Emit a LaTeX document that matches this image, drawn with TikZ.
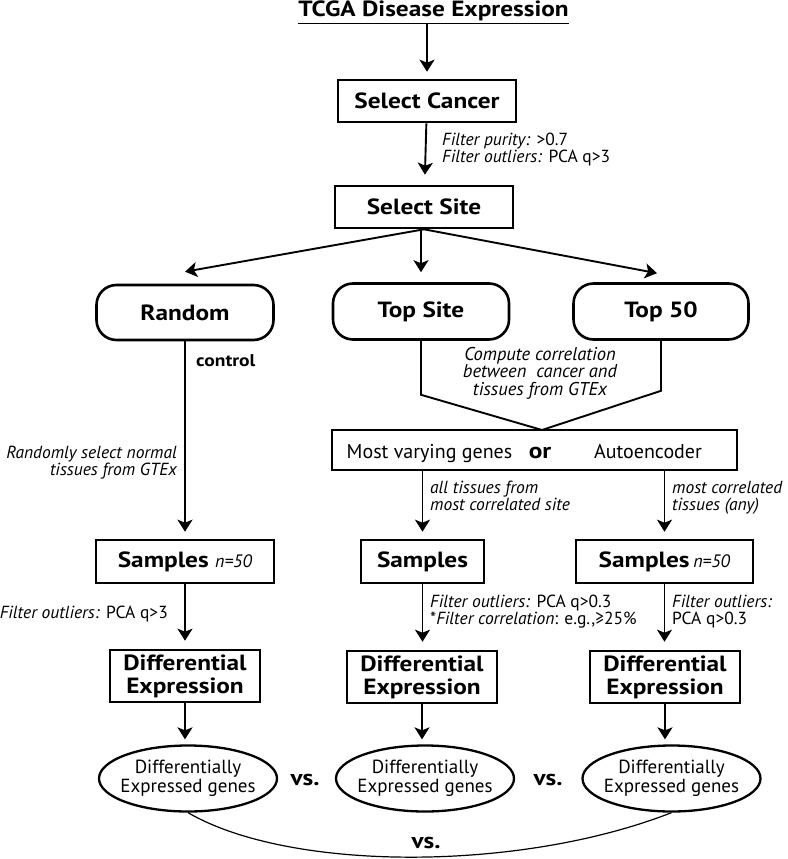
\documentclass[tikz,border=0pt]{standalone}
\usepackage{fontspec}
\setmainfont{PT Sans}[BoldFeatures={FakeStretch=1.15}]
\usetikzlibrary{arrows.meta,shapes.geometric}

\begin{document}
\begin{tikzpicture}[x=1pt, y=-1pt,
                box/.style={draw=black, line width=2.6pt, inner sep=0pt, font=\bfseries\fontsize{22}{23}\selectfont, align=center},
                pill/.style={box, rounded corners=20pt},
                oval/.style={ellipse, draw=black, line width=2.3pt, inner sep=-7pt, font=\fontsize{19}{18.5}\selectfont, align=center},
                arr/.style={-{Stealth[length=12pt, width=15pt, inset=3pt]}, line width=1.9pt},
                note/.style={inner sep=0pt, font=\fontsize{17.5}{17}\selectfont},
                vs/.style={inner sep=0pt, font=\bfseries\fontsize{22}{23}\selectfont}]
                \useasboundingbox (0,0) rectangle (787,859);

                \node [inner sep=0pt, anchor=base, font=\bfseries\fontsize{22}{23}\selectfont] (title) at (433.5,17) {\underline{TCGA Disease Expression}};
                \node [box, minimum width=178pt, minimum height=42pt] (cancer) at (427,101) {Select Cancer};
                \node [box, minimum width=178pt, minimum height=42pt] (site) at (424,207) {Select Site};

                \node [pill, minimum width=177pt, minimum height=55pt] (random) at (185,312.5) {Random};
                \node [pill, minimum width=176pt, minimum height=56pt] (topsite) at (421,311.5) {Top Site};
                \node [pill, minimum width=175pt, minimum height=56pt] (topfifty) at (661,311.5) {Top 50};

                \node [draw=black, line width=2.6pt, minimum width=405pt, minimum height=40pt] (orbox) at (534.5,450) {};
                \node [inner sep=0pt, anchor=base, font=\fontsize{20}{20}\selectfont] (varying) at (429.5,458) {Most varying genes};
                \node [inner sep=0pt, anchor=base, font=\bfseries\fontsize{22}{22}\selectfont] (orword) at (540,458) {or};
                \node [inner sep=0pt, anchor=base, font=\fontsize{20}{20}\selectfont] (autoenc) at (648,458) {Autoencoder};

                \node [box, minimum width=178pt, minimum height=43pt] (samplesA) at (185,561.5) {Samples \textit{\mdseries\fontsize{18}{18}\selectfont n=50}};
                \node [box, minimum width=123pt, minimum height=43pt] (samplesB) at (422.5,561.5) {Samples};
                \node [box, minimum width=177pt, minimum height=43pt] (samplesC) at (664.5,561.5) {Samples\,\textit{\mdseries\fontsize{18}{18}\selectfont n=50}};

                \node [box, minimum width=150pt, minimum height=52pt] (diffA) at (185,676) {Differential\\Expression};
                \node [box, minimum width=150pt, minimum height=52pt] (diffB) at (422,677) {Differential\\Expression};
                \node [box, minimum width=150pt, minimum height=52pt] (diffC) at (665,677) {Differential\\Expression};

                \node [oval, minimum width=178pt, minimum height=66pt] (degA) at (188,778.5) {Differentially\\Expressed genes};
                \node [oval, minimum width=178pt, minimum height=66pt] (degB) at (425,778.5) {Differentially\\Expressed genes};
                \node [oval, minimum width=178pt, minimum height=66pt] (degC) at (671.5,778.5) {Differentially\\Expressed genes};

                \node [vs] (vsAB) at (305,780) {vs.};
                \node [vs] (vsBC) at (548,780) {vs.};
                \node [vs] (vsAC) at (426,843) {vs.};

                \draw[arr, shorten >=7pt] (title.south -| cancer) -- (cancer.north);
                \draw[arr, shorten >=10pt] (cancer) -- (site);
                \node [note, anchor=base west] (purity) at (442,145) {\textit{Filter purity:} >0.7};
                \node [note, anchor=base west] (outliers) at (442,162) {\textit{Filter outliers:} PCA q>3};

                \draw[arr] (site.south) -- ([yshift=12pt]random.north);
                \draw[arr] (site.south -| topsite) -- ([yshift=10pt]topsite.north);
                \draw[arr] (site.south) -- ([xshift=-4pt,yshift=9pt]topfifty.north);

                \coordinate (merge) at (542,430);
                \draw[line width=1.9pt] (topsite.south) -- ++(0,54) -- (merge);
                \draw[line width=1.9pt] (topfifty.south) -- ++(0,50) -- (merge);
                \node [note, anchor=base, align=center, font=\itshape\fontsize{18.5}{17.5}\selectfont] (corr) at (540,395) {Compute correlation\\between\ \ cancer and\\tissues from GTEx};

                \draw[arr, shorten >=7pt] (random.south) -- (samplesA.north);
                \node [inner sep=0pt, anchor=base west, font=\bfseries\fontsize{17}{18}\selectfont] (control) at (196,366) {control};
                \node [note, anchor=base east, align=right, font=\itshape\fontsize{17.5}{17}\selectfont] (randsel) at (177,475) {Randomly select normal\\tissues from GTEx};

                \draw[arr, shorten >=7pt] (orbox.south -| samplesB) -- (samplesB.north);
                \draw[arr, shorten >=7pt] (orbox.south -| samplesC) -- (samplesC.north);
                \node [note, anchor=base west, align=left, font=\itshape\fontsize{17.5}{17}\selectfont] (alltis) at (430,510) {all tissues from\\most correlated site};
                \node [note, anchor=base west, align=left, font=\itshape\fontsize{17.5}{17}\selectfont] (mostcorr) at (672,510) {most correlated\\tissues (any)};

                \draw[arr, shorten >=8pt] (samplesA.south) -- (samplesA.south |- diffA.north);
                \draw[arr, shorten >=8pt] (samplesB.south) -- (samplesB.south |- diffB.north);
                \draw[arr, shorten >=8pt] (samplesC.south) -- (samplesC.south |- diffC.north);
                \node [note, anchor=base east] (filtA) at (168,618) {\textit{Filter outliers:} PCA q>3};
                \node [note, anchor=base west, align=left] (filtB) at (430,624) {\textit{Filter outliers:} PCA q>0.3\\*\textit{Filter correlation}: e.g.,≥25\%};
                \node [note, anchor=base west, align=left] (filtC) at (672,624) {\textit{Filter outliers:}\\PCA q>0.3};

                \draw[arr, shorten >=5pt] (diffA.south) -- (diffA.south |- degA.north);
                \draw[arr, shorten >=5pt] (diffB.south) -- (diffB.south |- degB.north);
                \draw[arr, shorten >=5pt] (diffC.south) -- (diffC.south |- degC.north);

                \draw[line width=1.2pt] (degA.south) .. controls (290,872) and (520,872) .. (degC.south);
\end{tikzpicture}
\end{document}
